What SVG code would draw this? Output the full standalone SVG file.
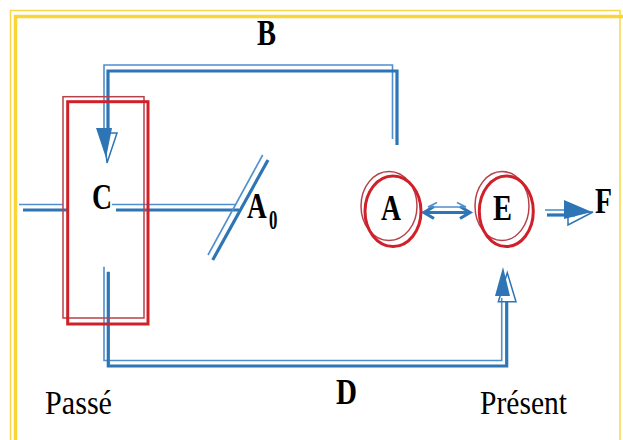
<svg xmlns="http://www.w3.org/2000/svg" width="623" height="440" viewBox="0 0 623 440">
<style>
.fr1{fill:none;stroke:#F8D84A;stroke-width:1.5}
.fr2{fill:none;stroke:#F9D535;stroke-width:3.5}
.b1{fill:none;stroke:#4F8FCF;stroke-width:1.6}
.b2{fill:none;stroke:#2E75B6;stroke-width:3.2}
.r1{fill:none;stroke:#B5414B;stroke-width:1.5}
.r2{fill:none;stroke:#D0202A;stroke-width:3}
text{font-family:"Liberation Serif","Times New Roman","DejaVu Serif",serif;fill:#000}
.lab{font-weight:bold;font-size:36px}
.txt{font-size:34px}
</style>
<rect width="623" height="440" fill="#fff"/>
<g id="frame">
<path class="fr1" d="M10.5,440 V10.5 H620 V440"/>
<path class="fr2" d="M15.5,440 V16.5 H623"/>
</g>
<g id="connectors">
<path class="b1" d="M392.5,139 V65 H104 V133"/>
<path class="b2" d="M397,145 V71 H108 V128"/>
<polygon points="96,128 112,128 106,158" fill="#2E75B6"/>
<polygon points="104,133 117,133 107,163" fill="none" stroke="#2E75B6" stroke-width="1.5"/>
<path class="b1" d="M19,204.5 H63"/>
<path class="b2" d="M23,210 H67"/>
<path class="b1" d="M112,204.5 H235"/>
<path class="b2" d="M116,210 H239"/>
<path class="b1" d="M262.7,155 L208,255"/>
<path class="b2" d="M268,160 L212.7,260"/>
<path class="b1" d="M104,266.7 V360.5 H501.7 V298"/>
<path class="b2" d="M108.3,271.7 V366 H506.7 V301"/>
<polygon points="503,267 495,296 510,296" fill="#2E75B6"/>
<polygon points="507.3,272.7 498.3,301.7 516,301.7" fill="none" stroke="#2E75B6" stroke-width="1.5"/>
<path class="b2" d="M424,212.5 H470 M434,206.5 L424,212.5 L434,218.5 M460,206.5 L470,212.5 L460,218.5"/>
<path class="b1" d="M428,207 H466 M437,202.5 L428,207 M457,202.5 L466,207"/>
<path class="b1" d="M545,210 H576"/>
<path class="b2" d="M547,215 H575"/>
<polygon points="564,200 564,219 592,212" fill="#2E75B6"/>
<polygon points="568,212 568,225 593,212" fill="none" stroke="#2E75B6" stroke-width="1.5"/>
</g>
<g id="C">
<rect class="r1" x="63" y="96.7" width="81" height="221.3"/>
<rect class="r2" x="67.7" y="101.7" width="80.3" height="222.3"/>
<text class="lab" x="92" y="209" textLength="20" lengthAdjust="spacingAndGlyphs">C</text>
</g>
<g id="A0">
<text class="lab" transform="translate(247,218) scale(0.76,1)">A</text>
<text class="lab" transform="translate(269,229) scale(0.6,1)" style="font-size:28px">0</text>
</g>
<g id="A">
<ellipse class="r1" cx="389" cy="206" rx="28" ry="34.5"/>
<ellipse class="r2" cx="393" cy="211.3" rx="28" ry="35.3"/>
<text class="lab" x="381" y="220" textLength="20" lengthAdjust="spacingAndGlyphs">A</text>
</g>
<g id="E">
<ellipse class="r1" cx="502" cy="206" rx="27" ry="34.5"/>
<ellipse class="r2" cx="506.3" cy="211.3" rx="27" ry="35.3"/>
<text class="lab" x="493" y="220" textLength="19" lengthAdjust="spacingAndGlyphs">E</text>
</g>
<g id="F">
<text class="lab" x="595" y="213" textLength="17" lengthAdjust="spacingAndGlyphs">F</text>
</g>
<g id="labels">
<text class="lab" x="257" y="45" font-size="32" textLength="19" lengthAdjust="spacingAndGlyphs">B</text>
<text class="lab" x="336" y="404" textLength="21" lengthAdjust="spacingAndGlyphs">D</text>
<text class="txt" x="45" y="414" textLength="67" lengthAdjust="spacingAndGlyphs">Passé</text>
<text class="txt" x="480" y="414" textLength="87" lengthAdjust="spacingAndGlyphs">Présent</text>
</g>
</svg>
